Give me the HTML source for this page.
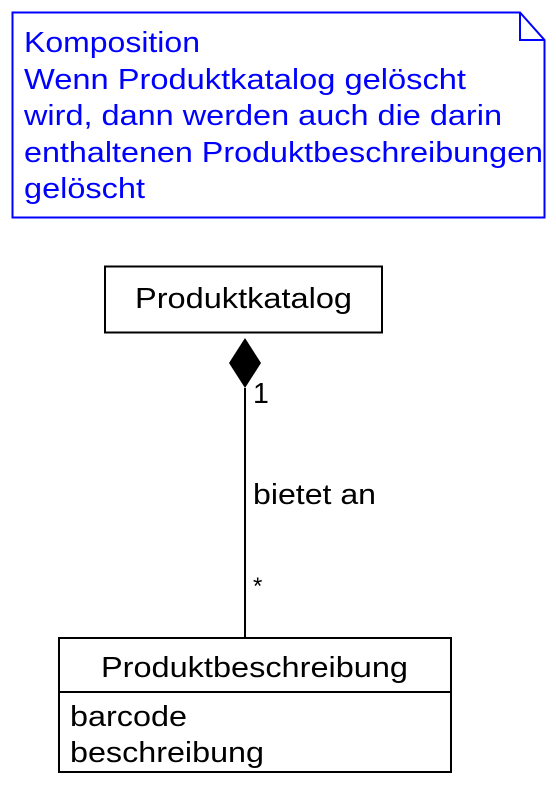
<!DOCTYPE html>
<html><head><meta charset="utf-8"><style>
html,body{margin:0;padding:0;background:#fff;}
svg{display:block;}
text{font-family:"Liberation Sans",Arial,sans-serif;}
</style></head><body>
<svg width="556" height="786" viewBox="0 0 556 786" xmlns="http://www.w3.org/2000/svg">
<path d="M12.5 12.5 H520 L544.5 40 V217.5 H12.5 Z" fill="#fff" stroke="#0000ff" stroke-width="2"/>
<path d="M520 12.5 V40 H544.5" fill="none" stroke="#0000ff" stroke-width="2"/>
<g fill="#0000ff" font-size="28.5">
<text x="24" y="52" textLength="176" lengthAdjust="spacingAndGlyphs">Komposition</text>
<text x="24" y="89" textLength="442" lengthAdjust="spacingAndGlyphs">Wenn Produktkatalog gelöscht</text>
<text x="24" y="125" textLength="478" lengthAdjust="spacingAndGlyphs">wird, dann werden auch die darin</text>
<text x="24" y="162" textLength="519" lengthAdjust="spacingAndGlyphs">enthaltenen Produktbeschreibungen</text>
<text x="24" y="198" textLength="121" lengthAdjust="spacingAndGlyphs">gelöscht</text>
</g>
<rect x="105" y="266.5" width="277" height="66" fill="#fff" stroke="#000" stroke-width="2"/>
<text x="135" y="308" font-size="28.5" textLength="217" lengthAdjust="spacingAndGlyphs">Produktkatalog</text>
<line x1="245" y1="388" x2="245" y2="638" stroke="#000" stroke-width="2"/>
<polygon points="245,338 261,363 245,388 229,363" fill="#000"/>
<text x="253" y="403" font-size="28.5">1</text>
<text x="253" y="504" font-size="28.5" textLength="123" lengthAdjust="spacingAndGlyphs">bietet an</text>
<text x="253" y="594" font-size="24">*</text>
<rect x="59" y="638" width="392" height="134" fill="#fff" stroke="#000" stroke-width="2"/>
<line x1="59" y1="692" x2="451" y2="692" stroke="#000" stroke-width="2"/>
<text x="101" y="677" font-size="28.5" textLength="307" lengthAdjust="spacingAndGlyphs">Produktbeschreibung</text>
<text x="70" y="726" font-size="28.5" textLength="117" lengthAdjust="spacingAndGlyphs">barcode</text>
<text x="70" y="762" font-size="28.5" textLength="194" lengthAdjust="spacingAndGlyphs">beschreibung</text>
</svg>
</body></html>
